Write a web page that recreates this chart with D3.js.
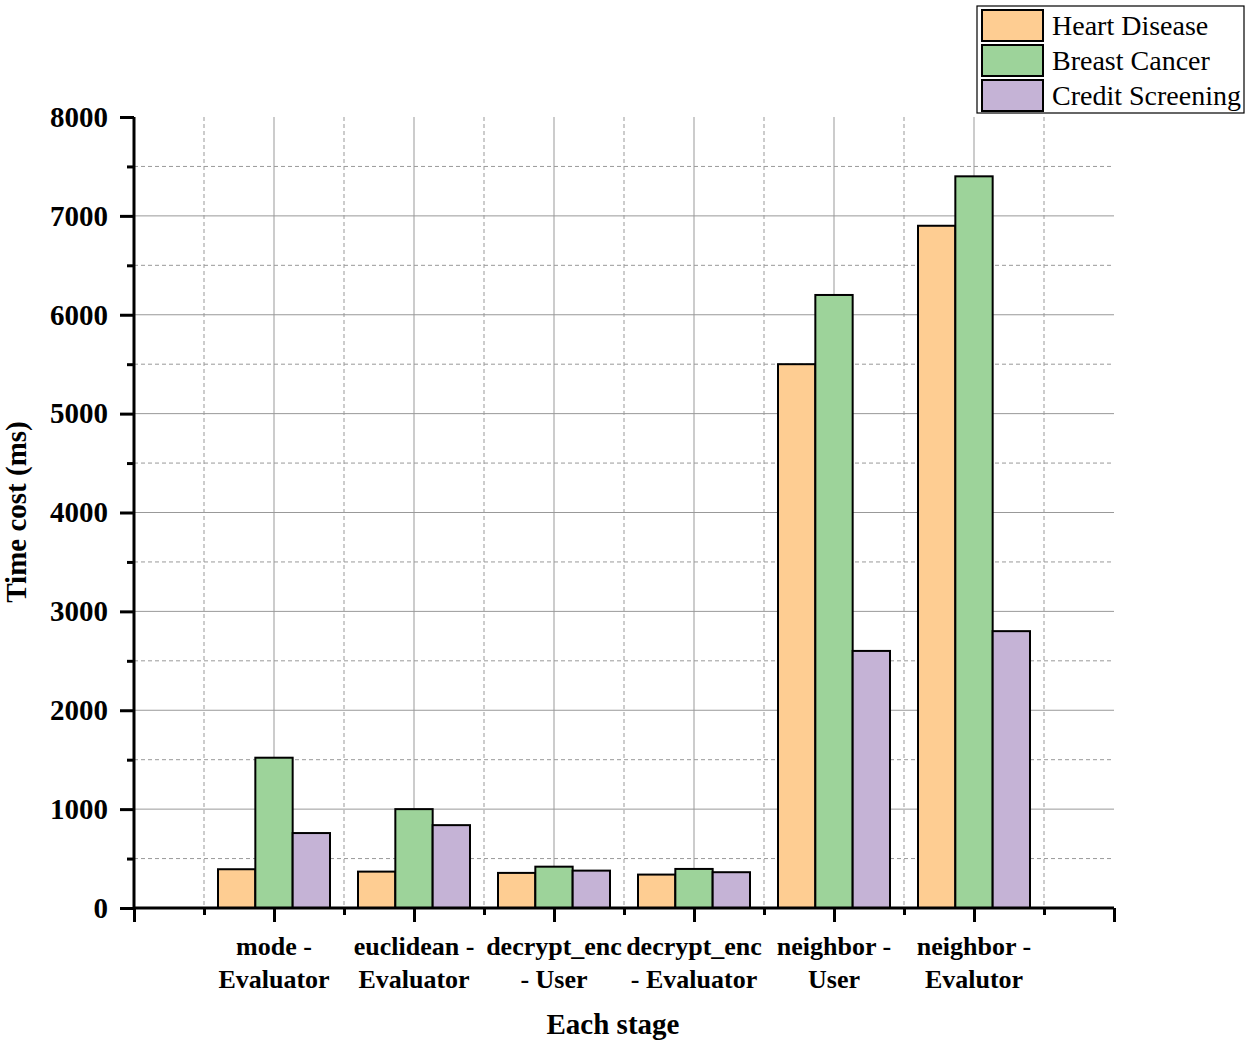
<!DOCTYPE html>
<html>
<head>
<meta charset="utf-8">
<script src="https://cdn.jsdelivr.net/npm/d3@7"></script>
<style>
  body { margin: 0; background: #fff; }
  svg { font-family: "Liberation Serif", "Times New Roman", serif; }
</style>
</head>
<body>
<div id="chart"></div>
<script>
const stages = [
  ['mode -', 'Evaluator'],
  ['euclidean -', 'Evaluator'],
  ['decrypt_enc', '- User'],
  ['decrypt_enc', '- Evaluator'],
  ['neighbor -', 'User'],
  ['neighbor -', 'Evalutor']
];
const seriesNames = ['Heart Disease', 'Breast Cancer', 'Credit Screening'];
const heart = [392, 368, 355, 338, 5500, 6900];
const breast = [1520, 1000, 418, 395, 6200, 7400];
const credit = [758, 838, 378, 362, 2600, 2800];
const yTicks = [0, 1000, 2000, 3000, 4000, 5000, 6000, 7000, 8000];

const width = 1250;
const height = 1045;
const colors = ['#fecd92', '#9dd39a', '#c5b3d6'];
const seriesValues = [heart, breast, credit];

const svg = d3.select('#chart')
  .append('svg')
  .attr('width', width)
  .attr('height', height);

// x is a linear index scale: stage i sits at i + 1
const x = d3.scaleLinear().domain([0, 7]).range([134, 1114]);
const y = d3.scaleLinear().domain([0, 8000]).range([908, 117]);
const step = x(1) - x(0);
const barW = step * 0.8 / 3;

// grid
const grid = svg.append('g');
d3.range(500, 8000, 500).forEach((v) => {
  grid.append('line')
    .attr('x1', x(0)).attr('x2', x(7))
    .attr('y1', y(v)).attr('y2', y(v))
    .attr('stroke', '#999')
    .attr('stroke-width', 1)
    .attr('stroke-dasharray', v % 1000 === 0 ? null : '4,3');
});
d3.range(0.5, 7, 0.5).forEach((v) => {
  grid.append('line')
    .attr('x1', x(v)).attr('x2', x(v))
    .attr('y1', y(8000)).attr('y2', y(0))
    .attr('stroke', '#999')
    .attr('stroke-width', 1)
    .attr('stroke-dasharray', v % 1 === 0 ? null : '4,3');
});

// bars
seriesValues.forEach((vals, s) => {
  svg.append('g')
    .selectAll('rect')
    .data(vals)
    .enter()
    .append('rect')
    .attr('x', (d, i) => x(i + 1) - 1.5 * barW + s * barW)
    .attr('y', (d) => y(d))
    .attr('width', barW)
    .attr('height', (d) => y(0) - y(d))
    .attr('fill', colors[s])
    .attr('stroke', '#000')
    .attr('stroke-width', 2);
});

// y axis
const yAxis = svg.append('g')
  .attr('transform', 'translate(' + x(0) + ',0)')
  .call(d3.axisLeft(y).tickValues(yTicks).tickSize(14).tickPadding(12).tickFormat(d3.format('d')));
yAxis.selectAll('text')
  .attr('font-size', 29)
  .attr('font-weight', 'bold')
  .attr('font-family', '"Liberation Serif", serif')
  .attr('fill', '#000');
const yMinor = svg.append('g')
  .attr('transform', 'translate(' + x(0) + ',0)')
  .call(d3.axisLeft(y).tickValues(d3.range(500, 8000, 1000)).tickSize(7).tickFormat(''));

// x axis
const xAxis = svg.append('g')
  .attr('transform', 'translate(0,' + y(0) + ')')
  .call(d3.axisBottom(x).tickValues(d3.range(0, 8)).tickSize(14).tickFormat(''));
const xMinor = svg.append('g')
  .attr('transform', 'translate(0,' + y(0) + ')')
  .call(d3.axisBottom(x).tickValues(d3.range(0.5, 7, 1)).tickSize(7).tickFormat(''));

[yAxis, yMinor, xAxis, xMinor].forEach((g) => {
  g.select('.domain').attr('stroke', '#000').attr('stroke-width', 3);
  g.selectAll('.tick line').attr('stroke', '#000').attr('stroke-width', 3);
});
yAxis.select('.domain').attr('d', 'M0,' + y(8000) + 'V' + y(0));
yMinor.select('.domain').remove();
xMinor.select('.domain').remove();
xAxis.select('.domain').attr('d', 'M' + x(0) + ',0H' + x(7));

// category labels
const catLabel = svg.append('g')
  .selectAll('text')
  .data(stages)
  .enter()
  .append('text')
  .attr('text-anchor', 'middle')
  .attr('font-size', 26)
  .attr('font-weight', 'bold');
catLabel.append('tspan')
  .attr('x', (d, i) => x(i + 1))
  .attr('y', 955)
  .text((d) => d[0]);
catLabel.append('tspan')
  .attr('x', (d, i) => x(i + 1))
  .attr('y', 988)
  .text((d) => d[1]);

// axis titles
svg.append('text')
  .attr('x', 613)
  .attr('y', 1034)
  .attr('text-anchor', 'middle')
  .attr('font-size', 29)
  .attr('font-weight', 'bold')
  .text('Each stage');

svg.append('text')
  .attr('transform', 'translate(26,512) rotate(-90)')
  .attr('text-anchor', 'middle')
  .attr('font-size', 29)
  .attr('font-weight', 'bold')
  .text('Time cost (ms)');

// legend
const legend = svg.append('g').attr('transform', 'translate(977,6)');
legend.append('rect')
  .attr('width', 267)
  .attr('height', 107)
  .attr('fill', '#fff')
  .attr('stroke', '#000')
  .attr('stroke-width', 1.2);
const item = legend.selectAll('g.item')
  .data(seriesNames)
  .enter()
  .append('g')
  .attr('class', 'item')
  .attr('transform', (d, i) => 'translate(5,' + (4 + i * 35) + ')');
item.append('rect')
  .attr('width', 61)
  .attr('height', 31)
  .attr('fill', (d, i) => colors[i])
  .attr('stroke', '#000')
  .attr('stroke-width', 2);
item.append('text')
  .attr('x', 70)
  .attr('y', 25)
  .attr('font-size', 28)
  .text((d) => d);
</script>
</body>
</html>
